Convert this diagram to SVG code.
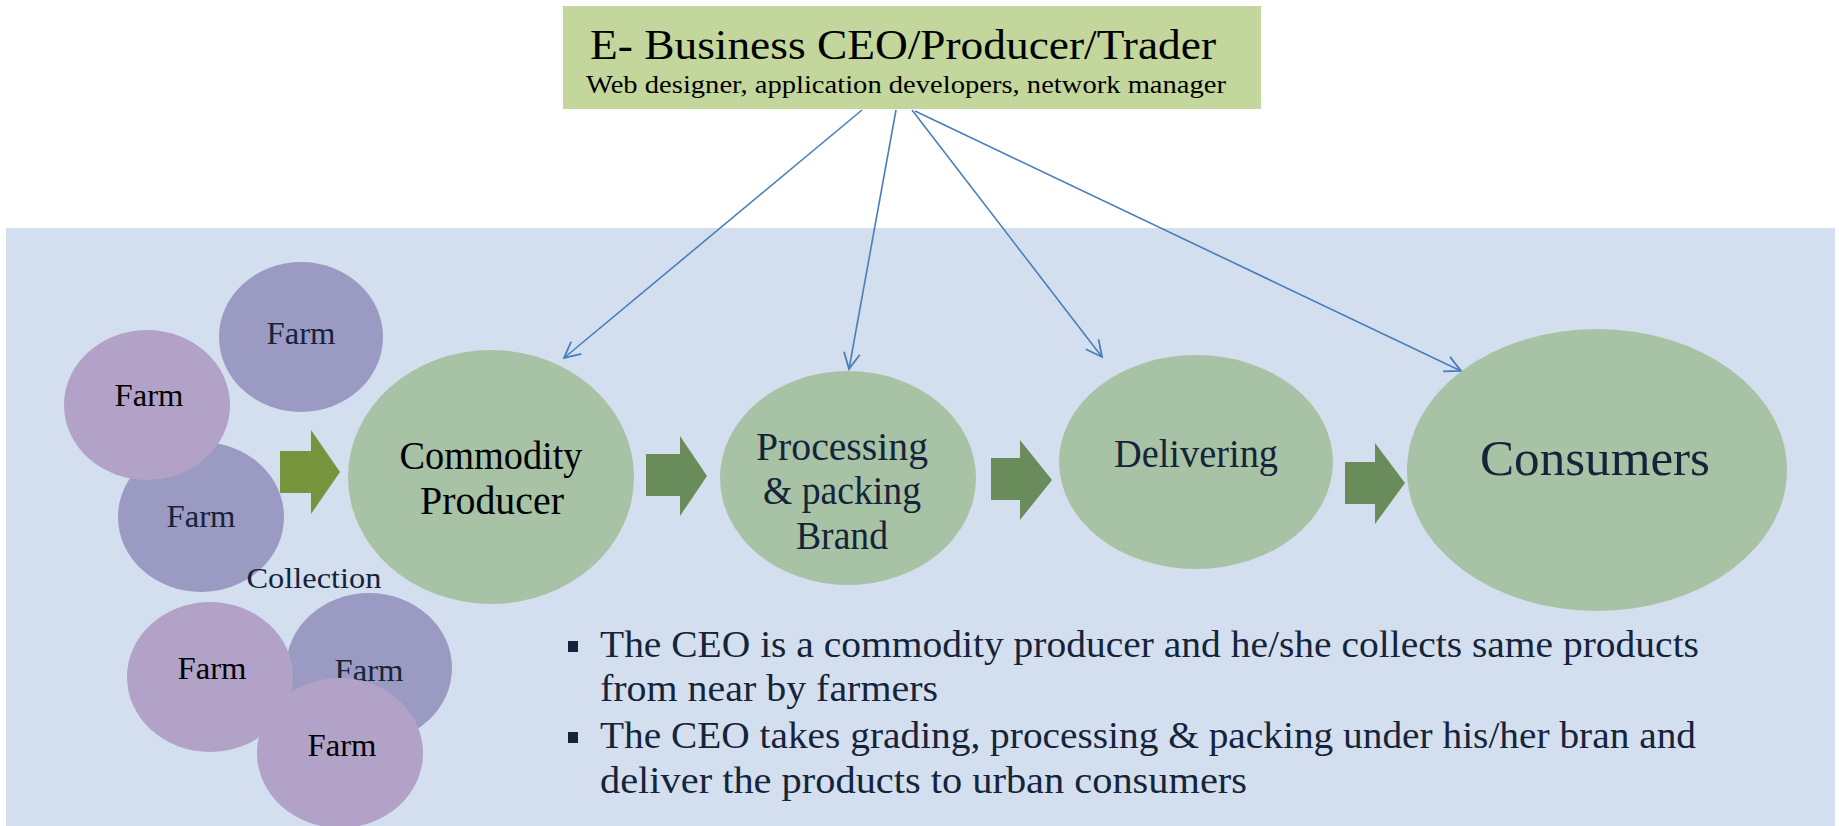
<svg xmlns="http://www.w3.org/2000/svg" width="1839" height="826" viewBox="0 0 1839 826">
<defs>
<style>
text{font-family:"Liberation Serif","DejaVu Serif",serif;text-anchor:middle}
.navy{fill:#15243A}
.blk{fill:#000}
.farmP{fill:#B3A2C7}
.farmB{fill:#9A9AC3}
.stage{fill:#A7C2A4}
.conn{stroke:#4A7EBB;stroke-width:1.6;fill:none}
.blockArrow{fill:#6A8C5A}
.bul{font-size:38px;text-anchor:start;fill:#15243A}
</style>
<marker id="open" viewBox="0 0 20 20" refX="18" refY="10" markerWidth="20" markerHeight="20" markerUnits="userSpaceOnUse" orient="auto">
<path d="M2,2 L18,10 L2,18" fill="none" stroke="#4A7EBB" stroke-width="1.8"/>
</marker>
</defs>
<rect width="1839" height="826" fill="#FFFFFF"/>
<rect id="panel" x="6" y="228" width="1829" height="598" fill="#D3DFEE"/>

<g id="top-box">
<rect x="563" y="6" width="698" height="103" fill="#C3D69B"/>
<text x="903" y="59" font-size="43" class="blk" textLength="626" lengthAdjust="spacingAndGlyphs">E- Business CEO/Producer/Trader</text>
<text x="906" y="93" font-size="25" class="blk" textLength="640" lengthAdjust="spacingAndGlyphs">Web designer, application developers, network manager</text>
</g>

<g id="connectors">
<line class="conn" x1="862" y1="110" x2="564" y2="358" marker-end="url(#open)"/>
<line class="conn" x1="896" y1="110" x2="849" y2="369" marker-end="url(#open)"/>
<line class="conn" x1="912" y1="110" x2="1102" y2="357" marker-end="url(#open)"/>
<line class="conn" x1="915" y1="111" x2="1461" y2="371" marker-end="url(#open)"/>
<polygon id="arrow1" points="280,451 311,451 311,430 340,472 311,514 311,493 280,493" fill="#77933C"/>
<polygon id="arrow2" class="blockArrow" points="646,454 680,454 680,436 707,476 680,516 680,496 646,496"/>
<polygon id="arrow3" class="blockArrow" points="991,458 1020,458 1020,440 1052,480 1020,520 1020,500 991,500"/>
<polygon id="arrow4" class="blockArrow" points="1345,462 1375,462 1375,443 1405,483 1375,524 1375,504 1345,504"/>
</g>

<g id="farm-c"><ellipse class="farmB" cx="201" cy="517" rx="83" ry="75"/><text x="201" y="527" font-size="32" class="navy" textLength="69" lengthAdjust="spacingAndGlyphs">Farm</text></g>
<g id="farm-b"><ellipse class="farmP" cx="147" cy="405" rx="83" ry="75"/><text x="149" y="406" font-size="32" class="blk" textLength="69" lengthAdjust="spacingAndGlyphs">Farm</text></g>
<g id="farm-a"><ellipse class="farmB" cx="301" cy="337" rx="82" ry="75"/><text x="301" y="344" font-size="32" class="navy" textLength="69" lengthAdjust="spacingAndGlyphs">Farm</text></g>
<g id="farm-e"><ellipse class="farmB" cx="369" cy="668" rx="83" ry="75"/><text x="369" y="681" font-size="32" class="navy" textLength="69" lengthAdjust="spacingAndGlyphs">Farm</text></g>
<g id="farm-d"><ellipse class="farmP" cx="210" cy="677" rx="83" ry="75"/><text x="212" y="679" font-size="32" class="blk" textLength="69" lengthAdjust="spacingAndGlyphs">Farm</text></g>
<g id="farm-f"><ellipse class="farmP" cx="340" cy="753" rx="83" ry="75"/><text x="342" y="756" font-size="32" class="blk" textLength="69" lengthAdjust="spacingAndGlyphs">Farm</text></g>
<g id="collection-label"><text x="314" y="588" font-size="30" class="navy" textLength="135" lengthAdjust="spacingAndGlyphs">Collection</text></g>

<g id="commodity-producer">
<ellipse class="stage" cx="491" cy="477" rx="143" ry="127"/>
<text x="491" y="469" font-size="39" class="blk" textLength="183" lengthAdjust="spacingAndGlyphs">Commodity</text>
<text x="492" y="514" font-size="39" class="blk" textLength="144" lengthAdjust="spacingAndGlyphs">Producer</text>
</g>
<g id="processing">
<ellipse class="stage" cx="848" cy="478" rx="128" ry="107"/>
<text x="842" y="460" font-size="39" class="navy" textLength="172" lengthAdjust="spacingAndGlyphs">Processing</text>
<text x="842" y="504" font-size="39" class="navy" textLength="158" lengthAdjust="spacingAndGlyphs">&amp; packing</text>
<text x="842" y="549" font-size="39" class="navy" textLength="92" lengthAdjust="spacingAndGlyphs">Brand</text>
</g>
<g id="delivering">
<ellipse class="stage" cx="1196" cy="462" rx="137" ry="107"/>
<text x="1196" y="467" font-size="39" class="navy" textLength="164" lengthAdjust="spacingAndGlyphs">Delivering</text>
</g>
<g id="consumers">
<ellipse class="stage" cx="1597" cy="470" rx="190" ry="141"/>
<text x="1595" y="475" font-size="50" class="navy" textLength="230" lengthAdjust="spacingAndGlyphs">Consumers</text>
</g>

<g id="bullets">
<rect x="568" y="641" width="10" height="11" fill="#15243A"/>
<rect x="568" y="732" width="10" height="11" fill="#15243A"/>
<text class="bul" x="600" y="657" textLength="1099" lengthAdjust="spacingAndGlyphs">The CEO is a commodity producer and he/she collects same products</text>
<text class="bul" x="600" y="701" textLength="338" lengthAdjust="spacingAndGlyphs">from near by farmers</text>
<text class="bul" x="600" y="748" textLength="1096" lengthAdjust="spacingAndGlyphs">The CEO takes grading, processing &amp; packing under his/her bran and</text>
<text class="bul" x="600" y="793" textLength="647" lengthAdjust="spacingAndGlyphs">deliver the products to urban consumers</text>
</g>
</svg>
